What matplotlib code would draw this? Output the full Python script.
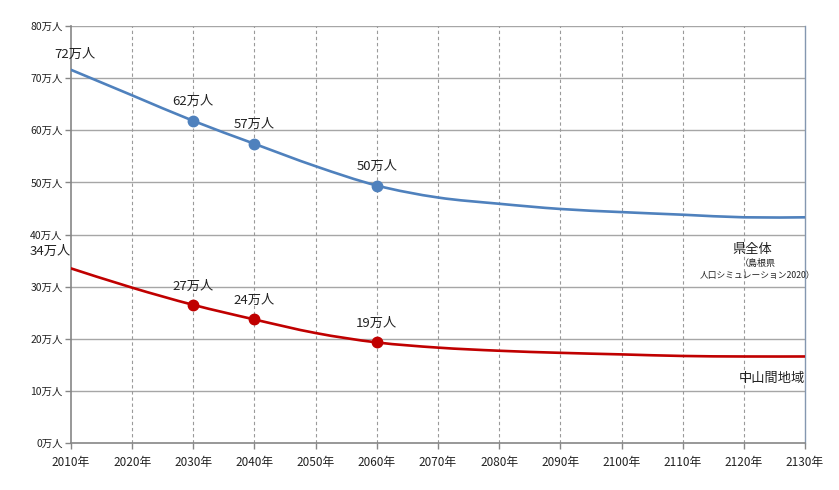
import matplotlib
matplotlib.use("Agg")
import matplotlib.pyplot as plt
from matplotlib.path import Path
from matplotlib.patches import PathPatch
import numpy as np

plt.rcParams['font.family'] = ['Noto Sans CJK JP', 'DejaVu Sans']

years = [2010, 2020, 2030, 2040, 2050, 2060, 2070, 2080, 2090, 2100, 2110, 2120, 2130]
prefecture = [71.6, 66.7, 61.8, 57.4, 53.1, 49.4, 47.1, 45.9, 44.9, 44.3, 43.8, 43.3, 43.3]
mountain = [33.5, 29.8, 26.5, 23.7, 21.1, 19.3, 18.3, 17.7, 17.3, 17.0, 16.7, 16.6, 16.6]
marker_years = [2030, 2040, 2060]
pref_labels = {2010: "72万人", 2030: "62万人", 2040: "57万人", 2060: "50万人"}
mount_labels = {2010: "34万人", 2030: "27万人", 2040: "24万人", 2060: "19万人"}
yticks = [0, 10, 20, 30, 40, 50, 60, 70, 80]

BLUE = "#4F81BD"
RED = "#C00000"

fig = plt.figure(figsize=(8.39, 4.90), dpi=100)
ax = fig.add_axes([0.0846, 0.0959, 0.8749, 0.851])


def smooth_path(xs, ys):
    # cubic Bezier through the data points (Excel-like smoothed line)
    xs = np.asarray(xs, float)
    ys = np.asarray(ys, float)
    n = len(xs)
    verts = [(xs[0], ys[0])]
    codes = [Path.MOVETO]
    t = 1 / 6
    for i in range(n - 1):
        p0 = (xs[max(i - 1, 0)], ys[max(i - 1, 0)])
        p1 = (xs[i], ys[i])
        p2 = (xs[i + 1], ys[i + 1])
        p3 = (xs[min(i + 2, n - 1)], ys[min(i + 2, n - 1)])
        c1 = (p1[0] + (p2[0] - p0[0]) * t, p1[1] + (p2[1] - p0[1]) * t)
        c2 = (p2[0] - (p3[0] - p1[0]) * t, p2[1] - (p3[1] - p1[1]) * t)
        verts += [c1, c2, p2]
        codes += [Path.CURVE4] * 3
    return Path(verts, codes)


for vals, col in [(prefecture, BLUE), (mountain, RED)]:
    patch = PathPatch(smooth_path(years, vals), facecolor="none", edgecolor=col, lw=1.9, zorder=3,
                      capstyle="round", joinstyle="round")
    ax.add_patch(patch)
    my = [vals[years.index(y)] for y in marker_years]
    ax.plot(marker_years, my, "o", color=col, ms=7.5, zorder=4)

for yr, txt in pref_labels.items():
    v = prefecture[years.index(yr)]
    dx = 3 if yr == 2010 else 0
    dy = 11 if yr == 2010 else 14
    ax.annotate(txt, (yr, v), xytext=(dx, dy), textcoords="offset points",
                ha="center", va="center", fontsize=9.5, color="#222222", annotation_clip=False)
for yr, txt in mount_labels.items():
    v = mountain[years.index(yr)]
    dx = -15 if yr == 2010 else 0
    dy = 12 if yr == 2010 else 13.5
    ax.annotate(txt, (yr, v), xytext=(dx, dy), textcoords="offset points",
                ha="center", va="center", fontsize=9.5, color="#222222", annotation_clip=False)

ax.text(2121.3, 37.2, "県全体", ha="center", va="center", fontsize=9.5, color="#222222")
ax.text(2122.3, 34.5, "（島根県", ha="center", va="center", fontsize=6.5, color="#222222")
ax.text(2122.3, 32.2, "人口シミュレーション2020）", ha="center", va="center", fontsize=6.3, color="#222222")
ax.text(2124.6, 12.3, "中山間地域", ha="center", va="center", fontsize=9.5, color="#222222")

ax.set_xlim(2010, 2130)
ax.set_ylim(0, 80)
ax.set_xticks(years)
ax.set_xticklabels([f"{y}年" for y in years], fontsize=8.5)
ax.set_yticks(yticks)
ax.set_yticklabels([f"{v}万人" for v in yticks], fontsize=7.5)

for v in yticks[1:]:
    ax.axhline(v, color="#a6a6a6", lw=1.0, zorder=1)
for y in years[1:-1]:
    ax.axvline(y, color="#9a9a9a", lw=0.8, ls=(0, (3, 2.5)), zorder=1)

for s in ["left", "bottom"]:
    ax.spines[s].set_color("#868686")
    ax.spines[s].set_linewidth(1.2)
ax.spines["right"].set_color("#8497b0")
ax.spines["right"].set_linewidth(1.0)
ax.spines["top"].set_visible(False)
ax.tick_params(axis="both", direction="out", length=4, color="#868686", width=1.0,
               labelcolor="#222222")
ax.tick_params(axis="x", pad=5)
ax.tick_params(axis="y", pad=2)

fig.savefig("out.png", dpi=100)
